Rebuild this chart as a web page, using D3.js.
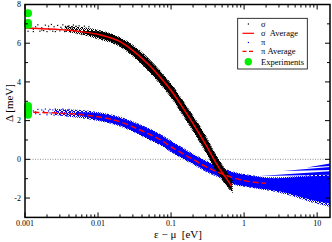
<!DOCTYPE html>
<html><head><meta charset="utf-8">
<script src="https://cdn.jsdelivr.net/npm/d3@7/dist/d3.min.js"></script>
<style>body{margin:0;background:#fff}svg{display:block}text{font-family:"Liberation Serif","DejaVu Serif",serif}</style>
</head><body>
<script>
// ---- data ----
const sigmaX   = [0.001,0.002,0.004,0.007,0.01,0.02,0.03,0.05,0.07,0.1,0.15,0.2,0.3,0.4,0.5,0.6,0.67];
const sigmaAvg = [6.78,6.74,6.67,6.56,6.46,6.08,5.62,4.87,4.27,3.56,2.58,1.85,0.75,-0.1,-0.68,-1.1,-1.38];
const piX      = [0.0013,0.002,0.004,0.007,0.01,0.02,0.03,0.05,0.07,0.1,0.15,0.2,0.3,0.5,0.7,1.0,1.5,2.0];
const piAvg    = [2.43,2.41,2.36,2.28,2.2,1.94,1.68,1.3,1.03,0.65,0.26,0.0,-0.38,-0.75,-0.95,-1.1,-1.2,-1.24];

// sigma cloud: outer (speckled) and inner (solid) envelopes
const sigOutX  = [0.0035,0.005,0.007,0.01,0.02,0.03,0.05,0.07,0.1,0.15,0.2,0.3,0.4,0.5,0.6,0.7];
const sigOutHi = [6.9,6.86,6.8,6.7,6.32,5.92,5.2,4.62,3.93,2.98,2.28,1.23,0.33,-0.25,-0.72,-1.08];
const sigOutLo = [6.6,6.5,6.38,6.2,5.8,5.3,4.5,3.88,3.17,2.16,1.42,0.32,-0.53,-1.08,-1.48,-1.75];
const sigInX   = [0.006,0.01,0.02,0.03,0.05,0.07,0.1,0.15,0.2,0.3,0.4,0.5,0.6,0.68];
const sigInHi  = [6.63,6.62,6.26,5.86,5.13,4.56,3.87,2.92,2.21,1.16,0.28,-0.3,-0.76,-1.1];
const sigInLo  = [6.53,6.3,5.87,5.36,4.58,3.95,3.24,2.23,1.5,0.38,-0.47,-1.02,-1.43,-1.65];

// pi cloud
const piOutX   = [0.0025,0.004,0.007,0.01,0.02,0.03,0.05,0.07,0.1,0.15,0.2,0.3,0.5,0.7,1.0,1.5,2,3,5,8,15];
const piOutHi  = [2.6,2.57,2.52,2.44,2.2,1.97,1.6,1.32,0.97,0.57,0.3,-0.06,-0.43,-0.63,-0.76,-0.86,-0.92,-0.93,-0.87,-0.82,-0.78];
const piOutLo  = [2.3,2.2,2.08,1.98,1.7,1.42,1.0,0.74,0.36,-0.02,-0.27,-0.64,-1.02,-1.3,-1.42,-1.52,-1.6,-1.72,-1.95,-2.2,-2.45];
const piInX    = [0.005,0.01,0.02,0.03,0.05,0.07,0.1,0.15,0.2,0.3,0.5,0.7,1.0,1.5,2,3,5,8,15];
const piInHi   = [2.45,2.38,2.14,1.92,1.55,1.27,0.92,0.52,0.25,-0.11,-0.48,-0.68,-0.8,-0.9,-0.96,-0.98,-0.93,-0.88,-0.83];
const piInLo   = [2.3,2.03,1.75,1.47,1.05,0.79,0.41,0.03,-0.22,-0.59,-0.97,-1.25,-1.38,-1.48,-1.55,-1.65,-1.85,-2.08,-2.28];
// feathery streaks of the pi cloud at high energy (tapered: start point, end upper/lower)
const streakX0  = [1.65,3.4,7.2];
const streakY0  = [-0.86,-0.6,-0.42];
const streakX1  = [15,15,15];
const streakHi1 = [-0.62,-0.4,-0.22];
const streakLo1 = [-0.8,-0.55,-0.34];

// sparse scatter at low energies
const sigDotX = [0.0011,0.0012,0.0013,0.0014,0.0015,0.0016,0.0017,0.0018,0.0019,0.002,0.0021,0.0022,0.0023,0.0024,0.0025,0.0026,0.0028,0.003,0.0031,0.0033,0.0035,0.0036,0.0038,0.004,0.0042,0.0044,0.0046,0.0048,0.005,0.0052,0.0013,0.0017,0.0021,0.0027,0.0032,0.0039,0.0045,0.0051,0.0055,0.006,0.0065,0.007,0.0075];
const sigDotY = [6.62,6.9,6.6,6.85,6.95,6.62,6.8,6.65,6.93,6.6,6.88,6.7,6.97,6.62,6.85,6.6,6.92,6.64,6.82,6.95,6.6,6.86,6.66,6.9,6.58,6.8,6.94,6.62,6.88,6.5,6.72,6.68,6.76,6.7,6.74,6.78,6.7,6.72,6.9,6.45,6.88,6.4,6.85];
const piDotX  = [0.0013,0.0014,0.0015,0.0016,0.0017,0.0018,0.0019,0.002,0.0021,0.0022,0.0023,0.0024,0.0025,0.0026,0.0028,0.003,0.0031,0.0033,0.0035,0.0036,0.0038,0.004,0.0042,0.0044,0.0014,0.0018,0.0022,0.0027,0.0032,0.0037,0.0041];
const piDotY  = [2.5,2.36,2.58,2.32,2.55,2.42,2.6,2.3,2.5,2.58,2.33,2.55,2.28,2.6,2.38,2.55,2.27,2.6,2.4,2.52,2.24,2.58,2.3,2.5,2.45,2.48,2.4,2.46,2.44,2.35,2.42];

const expX = [0.0011,0.0011,0.0011,0.0011,0.0011,0.0011,0.0011];
const expY = [7.55,7.05,6.95,2.75,2.6,2.45,2.3];

const xTicks = [0.001,0.01,0.1,1,10];
const xTickLabels = ["0.001","0.01","0.1","1","10"];
const yTicks = [-2,0,2,4,6,8];

// ---- layout ----
const W=332,H=242;
const x=d3.scaleLog().domain([0.001,15]).range([25,330]);
const y=d3.scaleLinear().domain([-3,8]).range([217.4,4.5]);
const svg=d3.select("body").append("svg").attr("width",W).attr("height",H);
const defs=svg.append("defs");
defs.append("clipPath").attr("id","c").append("rect")
  .attr("x",25).attr("y",4.5).attr("width",305).attr("height",212.9);
function speckle(id,col){
  const p=defs.append("pattern").attr("id",id).attr("patternUnits","userSpaceOnUse").attr("width",4).attr("height",4);
  [[0,0],[2,0],[1,1],[3,2],[0,2],[2,3],[1,3],[3,1]].forEach(q=>p.append("rect").attr("x",q[0]).attr("y",q[1]).attr("width",1).attr("height",1).attr("fill",col));
}
speckle("spk","#000"); speckle("spb","#0000ff");
const g=svg.append("g").attr("clip-path","url(#c)");

// zero line
g.append("line").attr("x1",x(0.001)).attr("x2",x(15)).attr("y1",y(0)).attr("y2",y(0))
  .attr("stroke","#777").attr("stroke-width",0.8).attr("stroke-dasharray","1,1.5");

const area=d3.area().x(d=>x(d[0])).y0(d=>y(d[2])).y1(d=>y(d[1])).curve(d3.curveMonotoneX);
const zip=(a,b,c)=>a.map((v,i)=>[v,b[i],c[i]]);
function dots(X,Y,col){
  g.append("g").selectAll("rect").data(X.map((v,i)=>[v,Y[i]])).enter().append("rect")
   .attr("x",d=>x(d[0])-0.6).attr("y",d=>y(d[1])-0.6).attr("width",1.2).attr("height",1.2).attr("fill",col);
}
// pi cloud
g.append("path").datum(zip(piOutX,piOutHi,piOutLo)).attr("d",area).attr("fill","url(#spb)");
g.append("path").datum(zip(piInX,piInHi,piInLo)).attr("d",area).attr("fill","#0000ff");
const flat=d3.area().x(d=>x(d[0])).y0(d=>y(d[2])).y1(d=>y(d[1]));
streakX0.forEach((v,i)=>{
  g.append("path").datum([[v,streakY0[i],streakY0[i]],[streakX1[i],streakHi1[i],streakLo1[i]]])
   .attr("d",flat).attr("fill","#0000ff");
});
dots(piDotX,piDotY,"#0000ff");
// sigma cloud
g.append("path").datum(zip(sigOutX,sigOutHi,sigOutLo)).attr("d",area).attr("fill","url(#spk)");
g.append("path").datum(zip(sigInX,sigInHi,sigInLo)).attr("d",area).attr("fill","#000");
dots(sigDotX,sigDotY,"#000");

const line=d3.line().x(d=>x(d[0])).y(d=>y(d[1])).curve(d3.curveMonotoneX);
g.append("path").datum(sigmaX.map((v,i)=>[v,sigmaAvg[i]])).attr("d",line)
  .attr("fill","none").attr("stroke","#ff0000").attr("stroke-width",1.5);
g.append("path").datum(piX.map((v,i)=>[v,piAvg[i]])).attr("d",line)
  .attr("fill","none").attr("stroke","#ff0000").attr("stroke-width",1.5).attr("stroke-dasharray","6,3");

// experiments
svg.selectAll(".ex").data(expX.map((v,i)=>[v,expY[i]])).enter().append("circle")
  .attr("cx",d=>x(d[0])).attr("cy",d=>y(d[1])).attr("r",4).attr("fill","#00ee00");

// ---- axes (ticks inward on all sides) ----
const minorX=[];
for(let e=-3;e<=1;e++) for(let m=2;m<=9;m++){const v=m*Math.pow(10,e); if(v<15) minorX.push(v);}
const minorY=[-1,1,3,5,7];
const ax=svg.append("g").attr("stroke","#000");
function tickX(v,len){
  ax.append("line").attr("x1",x(v)).attr("x2",x(v)).attr("y1",y(-3)).attr("y2",y(-3)-len).attr("stroke-width",1);
  ax.append("line").attr("x1",x(v)).attr("x2",x(v)).attr("y1",y(8)).attr("y2",y(8)+len).attr("stroke-width",1);
}
function tickY(v,len){
  ax.append("line").attr("x1",x(0.001)).attr("x2",x(0.001)+len).attr("y1",y(v)).attr("y2",y(v)).attr("stroke-width",1);
  ax.append("line").attr("x1",x(15)).attr("x2",x(15)-len).attr("y1",y(v)).attr("y2",y(v)).attr("stroke-width",1);
}
xTicks.forEach(v=>tickX(v,5)); minorX.forEach(v=>tickX(v,3));
yTicks.forEach(v=>tickY(v,5)); minorY.forEach(v=>tickY(v,3));
svg.append("rect").attr("x",25).attr("y",y(8)).attr("width",305).attr("height",y(-3)-y(8))
  .attr("fill","none").attr("stroke","#000").attr("stroke-width",1.5);

svg.selectAll(".xl").data(xTicks).enter().append("text")
  .attr("x",d=>x(d)).attr("y",226).attr("text-anchor","middle").attr("font-size",8).text((d,i)=>xTickLabels[i]);
svg.selectAll(".yl").data(yTicks).enter().append("text")
  .attr("x",21).attr("y",d=>y(d)+2.8).attr("text-anchor","end").attr("font-size",8).text(d=>d);

svg.append("text").attr("x",178).attr("y",238).attr("text-anchor","middle").attr("font-size",11)
  .attr("xml:space","preserve").text("ε − μ  [eV]");
svg.append("text").attr("transform","translate(12.5,103) rotate(-90)").attr("text-anchor","middle")
  .attr("font-size",11).text("Δ [meV]");

// ---- legend ----
const lg=svg.append("g");
lg.append("rect").attr("x",237.7).attr("y",18.3).attr("width",69.6).attr("height",50.7)
  .attr("fill","#fff").attr("stroke","#000").attr("stroke-width",0.8);
const items=[
  {t:"σ",k:"dot",c:"#000"},
  {t:"σ  Average",k:"line",c:"#f00"},
  {t:"π",k:"dot",c:"#00f"},
  {t:"π Average",k:"dash",c:"#f00"},
  {t:"Experiments",k:"circ",c:"#00ee00"}];
const rowY=[24,33.3,42.5,51.3,61.7];
items.forEach((it,i)=>{
  const yy=rowY[i];
  if(it.k==="dot") lg.append("rect").attr("x",247.8).attr("y",yy-0.6).attr("width",1.2).attr("height",1.2).attr("fill",it.c);
  if(it.k==="line") lg.append("line").attr("x1",242.5).attr("x2",254).attr("y1",yy).attr("y2",yy).attr("stroke",it.c).attr("stroke-width",1.2);
  if(it.k==="dash") lg.append("line").attr("x1",242.5).attr("x2",254).attr("y1",yy).attr("y2",yy).attr("stroke",it.c).attr("stroke-width",1.2).attr("stroke-dasharray","4,2.5");
  if(it.k==="circ") lg.append("circle").attr("cx",248.3).attr("cy",yy).attr("r",3.7).attr("fill",it.c);
  lg.append("text").attr("x",261).attr("y",yy+2.8).attr("font-size",8.5).attr("xml:space","preserve").text(it.t);
});
</script>
</body></html>
